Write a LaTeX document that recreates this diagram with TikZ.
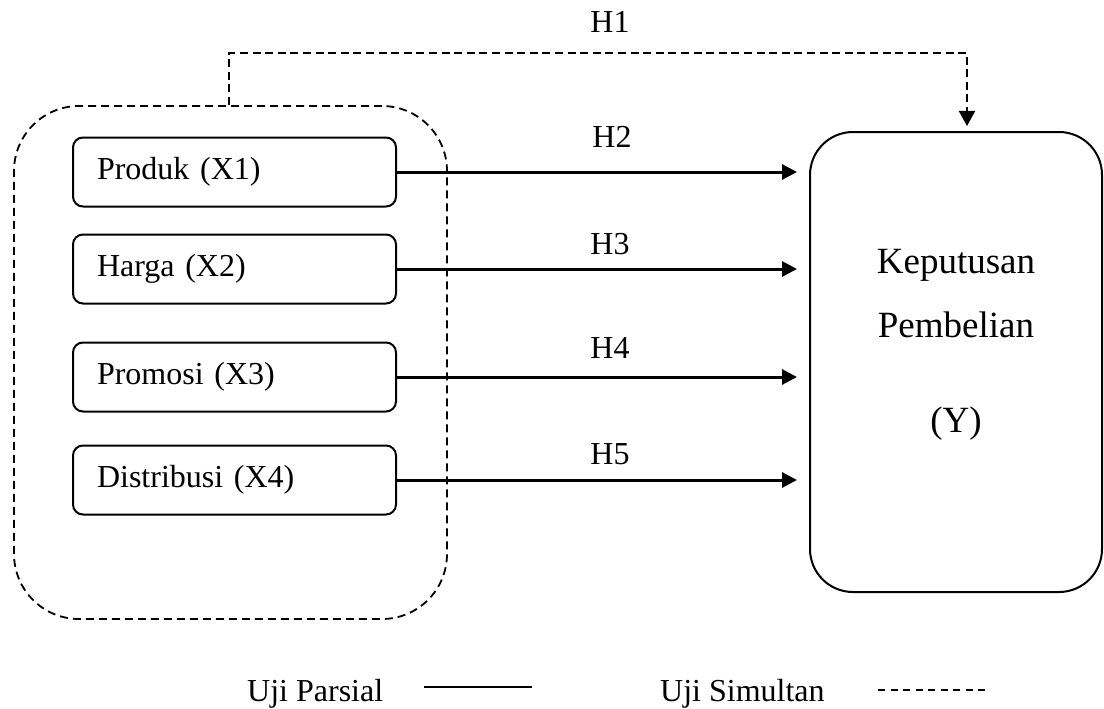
\documentclass[tikz,border=0pt]{standalone}
\usepackage{fontspec}
\setmainfont{Liberation Serif}
\usetikzlibrary{arrows.meta}
\begin{document}
\begin{tikzpicture}[x=1pt,y=-1pt,
  txt/.style={font=\fontsize{32}{38}\selectfont, inner sep=0pt},
  bigtxt/.style={font=\fontsize{37}{44}\selectfont, inner sep=0pt},
  varbox/.style={draw, line width=2pt, rounded corners=10pt, minimum width=323pt, minimum height=69pt,
    text width=275pt, inner xsep=24pt, align=left, anchor=west, font=\fontsize{32}{38}\selectfont},
  groupbox/.style={draw, line width=1.8pt, dash pattern=on 8pt off 5pt, rounded corners=65pt,
    minimum width=433pt, minimum height=513pt, inner sep=0pt},
  ybox/.style={draw, line width=2pt, rounded corners=43pt, minimum width=292pt, minimum height=460pt, inner sep=0pt},
  partial/.style={line width=3pt, -{Triangle[length=15pt,width=15pt]}, shorten >=12pt},
  simul/.style={line width=2pt, dash pattern=on 8pt off 4.6pt},
]
\useasboundingbox (0,0) rectangle (1104,709);

% group and boxes
\node[groupbox] (G) at (230.5,362.5) {};
\node[varbox] (x1) at (72,172) {Produk (X1)};
\node[varbox] (x2) at (72,269) {Harga (X2)};
\node[varbox] (x3) at (72,377) {Promosi (X3)};
\node[varbox] (x4) at (72,480) {Distribusi (X4)};

\node[ybox] (Y) at (956,362) {};
\node[bigtxt, anchor=base] (yl1) at (956,273) {Keputusan};
\node[bigtxt, anchor=base] (yl2) at (956,337) {Pembelian};
\node[bigtxt, anchor=base] (yl3) at (956,432) {(Y)};

% partial arrows
\draw[partial] (x1.east) -- (Y.west |- x1.east);
\draw[partial] (x2.east) -- (Y.west |- x2.east);
\draw[partial] (x3.east) -- (Y.west |- x3.east);
\draw[partial] (x4.east) -- (Y.west |- x4.east);

\node[txt, anchor=base] (h2) at (612,147) {H2};
\node[txt, anchor=base] (h3) at (610,254) {H3};
\node[txt, anchor=base] (h4) at (610,358) {H4};
\node[txt, anchor=base] (h5) at (610,464) {H5};

% simultaneous arrow
\coordinate (h1a) at (229,53);
\coordinate (h1b) at (967,53);
\draw[simul, -{Triangle[length=15pt,width=16pt]}, shorten >=5pt]
  (G.north -| h1a) -- (h1a) -- (h1b) -- (Y.north -| h1b);
\node[txt, anchor=base] (h1) at (610,33) {H1};

% legend
\node[txt, anchor=base west] (lp) at (247,701) {Uji Parsial};
\coordinate (lpa) at (424,687);
\coordinate (lpb) at (532,687);
\draw[line width=2.2pt] (lpa) -- (lpb);
\node[txt, anchor=base west] (ls) at (660,701) {Uji Simultan};
\coordinate (lsa) at (878,690);
\coordinate (lsb) at (990,690);
\draw[line width=2pt, dash pattern=on 7pt off 5.5pt] (lsa) -- (lsb);
\end{tikzpicture}
\end{document}
